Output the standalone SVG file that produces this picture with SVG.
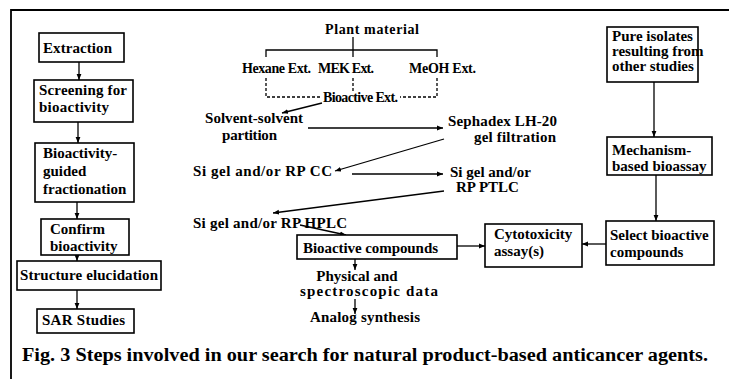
<svg xmlns="http://www.w3.org/2000/svg" width="729" height="379" viewBox="0 0 729 379">
<defs>
<marker id="ah" viewBox="0 0 10 10" refX="10" refY="5" markerWidth="6" markerHeight="6" markerUnits="userSpaceOnUse" orient="auto">
<path d="M0,1 L10,5 L0,9 z" fill="#000"/>
</marker>
<style>
text{font-family:"Liberation Serif","Times New Roman",serif;font-weight:bold;font-size:15px;fill:#000}
.box{fill:#fff;stroke:#000;stroke-width:1.6}
.ar{fill:none;stroke:#000;stroke-width:1.3;marker-end:url(#ah)}
.ln{fill:none;stroke:#000;stroke-width:1.3}
.ds{fill:none;stroke:#000;stroke-width:1.3;stroke-dasharray:3,2}
.mid{text-anchor:middle}
.sm{font-size:14px}
.cap{font-size:18px}
</style>
</defs>
<rect width="729" height="379" fill="#fff"/>
<g id="frame">
<path d="M11,379 L11,10 L729,10" fill="none" stroke="#000" stroke-width="1.8"/>
</g>
<g id="connectors">
<line class="ar" x1="79" y1="62" x2="79" y2="80"/>
<line class="ar" x1="78" y1="122" x2="78" y2="143"/>
<line class="ar" x1="77" y1="202" x2="77" y2="219"/>
<line class="ar" x1="77" y1="255" x2="77" y2="261"/>
<line class="ar" x1="77" y1="290" x2="77" y2="309"/>
<line class="ln" x1="353" y1="37" x2="353" y2="57"/>
<path class="ln" d="M266,57 L266,50 L437,50 L437,57"/>
<path class="ds" d="M266,78 L266,97 L320,97"/>
<line class="ds" x1="353" y1="78" x2="353" y2="92"/>
<path class="ds" d="M437,78 L437,97 L400,97"/>
<line class="ar" x1="322" y1="103" x2="282" y2="113"/>
<line class="ar" x1="308" y1="128" x2="443" y2="128"/>
<line class="ar" x1="444" y1="139" x2="335" y2="171"/>
<line class="ar" x1="352" y1="174" x2="443" y2="174"/>
<line class="ar" x1="444" y1="191" x2="273" y2="213"/>
<line class="ar" x1="300" y1="225" x2="346" y2="235"/>
<line class="ar" x1="457" y1="246" x2="485" y2="246"/>
<line class="ar" x1="606" y1="244" x2="582" y2="244"/>
<line class="ar" x1="355" y1="259" x2="355" y2="270"/>
<line class="ar" x1="355" y1="299" x2="355" y2="314"/>
<line class="ar" x1="654" y1="82" x2="654" y2="137"/>
<line class="ar" x1="656" y1="175" x2="656" y2="221"/>
</g>
<g id="extraction"><rect class="box" x="39" y="33" width="85" height="29"/><text x="43" y="53" textLength="69">Extraction</text></g>
<g id="screening"><rect class="box" x="34" y="80" width="99" height="42"/><text x="39" y="95" textLength="88">Screening for</text><text x="39" y="112" textLength="70">bioactivity</text></g>
<g id="fractionation"><rect class="box" x="35" y="143" width="99" height="59"/><text x="43" y="158">Bioactivity-</text><text x="43" y="176">guided</text><text x="43" y="194">fractionation</text></g>
<g id="confirm"><rect class="box" x="41" y="219" width="88" height="36"/><text x="50" y="234">Confirm</text><text x="50" y="251">bioactivity</text></g>
<g id="structure"><rect class="box" x="17" y="261" width="144" height="29"/><text x="20" y="280" textLength="138">Structure elucidation</text></g>
<g id="sar"><rect class="box" x="37" y="309" width="97" height="24"/><text x="42" y="325" textLength="83">SAR Studies</text></g>
<g id="plant"><text class="mid sm" x="372" y="34" textLength="94">Plant material</text></g>
<g id="hexane"><text class="sm" x="242" y="73" textLength="69">Hexane Ext.</text></g>
<g id="mek"><text class="sm" x="318" y="73" textLength="56">MEK Ext.</text></g>
<g id="meoh"><text class="sm" x="409" y="73" textLength="67">MeOH Ext.</text></g>
<g id="bioext"><text class="sm" x="323" y="102" textLength="75">Bioactive Ext.</text></g>
<g id="solvent"><text x="205" y="123" textLength="98">Solvent-solvent</text><text x="222" y="140" textLength="55">partition</text></g>
<g id="sephadex"><text x="448" y="126" textLength="109">Sephadex LH-20</text><text x="474" y="142" textLength="82">gel filtration</text></g>
<g id="sicc"><text x="193" y="176" textLength="139">Si gel and/or RP CC</text></g>
<g id="siptlc"><text x="450" y="177">Si gel and/or</text><text x="456" y="192">RP PTLC</text></g>
<g id="sihplc"><text x="193" y="228" textLength="154">Si gel and/or RP HPLC</text></g>
<g id="biocomp"><rect class="box" x="297" y="235" width="160" height="24"/><text x="303" y="253" textLength="135">Bioactive compounds</text></g>
<g id="physical"><text class="mid" x="357" y="281">Physical and</text><text class="mid" x="369" y="296" textLength="138">spectroscopic data</text></g>
<g id="analog"><text class="mid" x="365" y="322" textLength="110">Analog synthesis</text></g>
<g id="cytotox"><rect class="box" x="485" y="224" width="97" height="43"/><text x="494" y="239">Cytotoxicity</text><text x="494" y="256">assay(s)</text></g>
<g id="pure"><rect class="box" x="607" y="27" width="91" height="55"/><text x="612" y="41">Pure isolates</text><text x="612" y="56">resulting from</text><text x="612" y="71">other studies</text></g>
<g id="mechanism"><rect class="box" x="607" y="137" width="105" height="38"/><text x="612" y="155">Mechanism-</text><text x="612" y="171">based bioassay</text></g>
<g id="select"><rect class="box" x="606" y="221" width="108" height="44"/><text x="610" y="240">Select bioactive</text><text x="610" y="257">compounds</text></g>
<g id="caption"><text class="cap" x="22" y="361" textLength="686" lengthAdjust="spacingAndGlyphs">Fig. 3  Steps involved in our search for natural product-based anticancer agents.</text></g>
</svg>
